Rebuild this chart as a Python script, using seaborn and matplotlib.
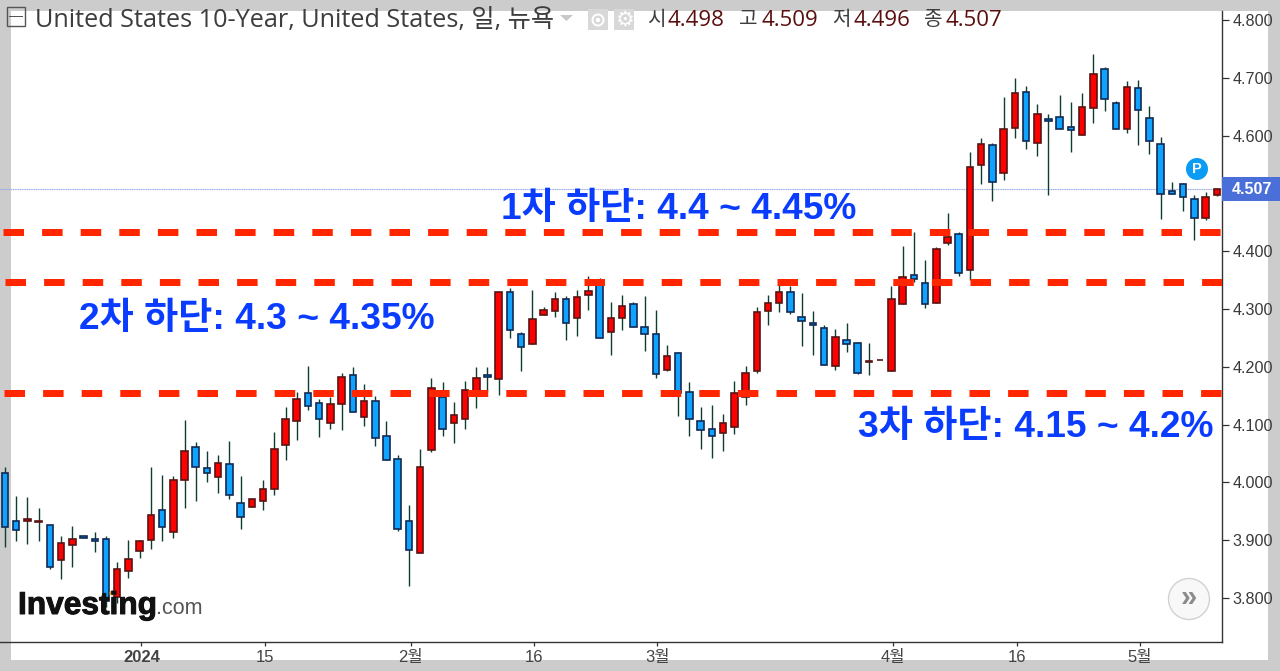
import matplotlib
matplotlib.use("Agg")
import matplotlib.pyplot as plt
from matplotlib.patches import Rectangle, Ellipse, Polygon
import matplotlib.patheffects as pe
import numpy as np
import pandas as pd
import seaborn as sns

open_ = [4.017,3.934,3.933,3.932,3.926,3.865,3.891,3.907,3.902,3.902,3.802,3.846,3.881,3.901,3.952,3.915,4.004,4.062,4.025,4.009,4.031,3.965,3.957,3.967,3.988,4.064,4.106,4.154,4.138,4.103,4.135,4.185,4.114,4.140,4.080,4.041,3.934,3.878,4.056,4.148,4.103,4.109,4.157,4.185,4.179,4.329,4.256,4.239,4.289,4.297,4.318,4.284,4.324,4.350,4.261,4.284,4.308,4.269,4.256,4.195,4.224,4.156,4.106,4.093,4.085,4.095,4.147,4.192,4.297,4.310,4.329,4.287,4.275,4.267,4.201,4.246,4.241,4.208,4.211,4.192,4.308,4.358,4.345,4.310,4.415,4.429,4.368,4.549,4.583,4.536,4.614,4.675,4.588,4.628,4.633,4.615,4.601,4.648,4.715,4.657,4.612,4.683,4.631,4.586,4.505,4.517,4.491,4.457,4.498]
high = [4.026,3.976,3.974,3.955,3.926,3.908,3.924,3.907,3.914,3.908,3.863,3.900,3.900,4.026,4.013,4.011,4.108,4.070,4.055,4.047,4.071,4.011,3.971,4.005,4.087,4.130,4.157,4.201,4.144,4.148,4.190,4.199,4.170,4.149,4.107,4.047,3.961,4.058,4.181,4.173,4.139,4.175,4.199,4.199,4.329,4.336,4.260,4.333,4.304,4.330,4.322,4.333,4.357,4.353,4.312,4.325,4.312,4.322,4.298,4.238,4.225,4.173,4.131,4.134,4.118,4.175,4.201,4.304,4.325,4.350,4.339,4.328,4.296,4.272,4.265,4.275,4.243,4.241,4.212,4.340,4.409,4.433,4.385,4.408,4.466,4.434,4.571,4.595,4.587,4.666,4.700,4.686,4.655,4.637,4.671,4.658,4.674,4.741,4.718,4.659,4.694,4.697,4.652,4.597,4.519,4.518,4.497,4.502,4.509]
low = [3.888,3.899,3.893,3.898,3.851,3.833,3.854,3.904,3.880,3.785,3.791,3.835,3.869,3.885,3.898,3.903,3.956,3.968,4.000,3.982,3.972,3.919,3.957,3.953,3.979,4.039,4.073,4.126,4.079,4.092,4.090,4.122,4.097,4.063,4.038,3.916,3.820,3.878,4.053,4.081,4.069,4.092,4.129,4.157,4.152,4.249,4.192,4.239,4.289,4.286,4.247,4.254,4.299,4.250,4.220,4.263,4.268,4.228,4.181,4.192,4.115,4.081,4.058,4.043,4.055,4.084,4.134,4.189,4.273,4.294,4.292,4.236,4.220,4.203,4.194,4.226,4.187,4.186,4.211,4.192,4.308,4.346,4.302,4.310,4.410,4.357,4.350,4.516,4.486,4.524,4.595,4.577,4.564,4.498,4.611,4.572,4.601,4.622,4.643,4.612,4.605,4.584,4.569,4.456,4.499,4.470,4.419,4.454,4.496]
close = [3.922,3.917,3.936,3.934,3.854,3.895,3.902,3.904,3.899,3.794,3.850,3.868,3.899,3.944,3.922,4.004,4.054,4.027,4.017,4.033,3.978,3.941,3.971,3.989,4.057,4.109,4.144,4.132,4.109,4.135,4.183,4.122,4.141,4.077,4.038,3.920,3.883,4.026,4.164,4.093,4.117,4.159,4.180,4.182,4.329,4.263,4.234,4.282,4.298,4.318,4.276,4.321,4.332,4.250,4.285,4.306,4.268,4.256,4.187,4.219,4.154,4.109,4.090,4.080,4.102,4.154,4.190,4.295,4.311,4.329,4.294,4.279,4.272,4.203,4.251,4.240,4.190,4.210,4.212,4.318,4.355,4.352,4.308,4.403,4.424,4.363,4.546,4.586,4.520,4.612,4.673,4.591,4.638,4.625,4.612,4.609,4.649,4.707,4.664,4.612,4.684,4.644,4.591,4.499,4.499,4.494,4.457,4.494,4.507]

y_ticks = [3.8, 3.9, 4.0, 4.1, 4.2, 4.3, 4.4, 4.6, 4.7, 4.8]
x_tick_index = [12, 23, 36, 47, 58, 79, 90, 101]
x_tick_labels = ["2024", "15", "2월", "16", "3월", "4월", "16", "5월"]
levels = [4.433, 4.347, 4.155]
last_price = 4.507
annotations = ["1차 하단: 4.4 ~ 4.45%", "2차 하단: 4.3 ~ 4.35%", "3차 하단: 4.15 ~ 4.2%"]

W, H = 1280, 671
sns.set_theme(style="white")
SANS = ["Liberation Sans", "Noto Sans CJK KR", "DejaVu Sans"]
plt.rcParams["font.family"] = SANS

df = pd.DataFrame({"open": open_, "high": high, "low": low, "close": close})
df["i"] = np.arange(len(df))
df["up"] = df["close"] >= df["open"]
df["bottom"] = df[["open", "close"]].min(axis=1)
df["height"] = (df["close"] - df["open"]).abs()

fig = plt.figure(figsize=(W / 100, H / 100), dpi=100, facecolor="white")
ax = fig.add_axes([0, (H - 642) / H, 1221.5 / W, (642 - 11) / H], facecolor="none")


def fx(x):
    return x / W


def fy(y):
    return 1 - y / H


def frect(x0, y0, x1, y1, color, z):
    fig.add_artist(Rectangle((fx(x0), fy(y1)), (x1 - x0) / W, (y1 - y0) / H,
                             transform=fig.transFigure, facecolor=color,
                             edgecolor="none", zorder=z))


def fcircle(x, y, r, face, edge="none", z=6, lw=1.0):
    fig.add_artist(Ellipse((fx(x), fy(y)), 2 * r / W, 2 * r / H, transform=fig.transFigure,
                           facecolor=face, edgecolor=edge, linewidth=lw, zorder=z))


# grey page frame
GREY = "#cccccc"
frect(0, 0, W, 11, GREY, -1)
frect(0, 0, 11, H, GREY, -1)
frect(1268, 0, W, H, GREY, -1)
frect(0, 660, W, H, GREY, -1)

# candles
BLUE, RED = "#0fa3ff", "#ff0000"
ax.vlines(df["i"], df["low"], df["high"], color="#0f3d2e", lw=1.0, zorder=2)
for up, sub in df.groupby("up"):
    ax.bar(sub["i"], sub["height"].clip(lower=0.0008), bottom=sub["bottom"], width=0.58,
           color=RED if up else BLUE, edgecolor="#5a1414" if up else "#102a55",
           linewidth=1.2, zorder=3)

# last price line
sns.lineplot(x=[-0.446, 108.42], y=[last_price, last_price], ax=ax, color="#8fa4e6",
             linewidth=0.8, linestyle=(0, (1, 0.6)), errorbar=None, zorder=1.5)

# dashed support levels
lw_pt = 7 * 0.72
dash = (0, (20.5 * 0.72 / lw_pt, 18.1 * 0.72 / lw_pt))
for lev, start in zip(levels, [-0.22, 0.0, -0.09]):
    sns.lineplot(x=[start, 108.42], y=[lev, lev], ax=ax, color="#ff2600",
                 linewidth=lw_pt, linestyle=dash, errorbar=None, zorder=4)

ax.set_xlim(-0.446, 108.42)
ax.set_ylim(3.8 - 44 / 578, 3.8 + 587 / 578)
ax.set_xlabel("")
ax.set_ylabel("")
ax.grid(False)
for s in ["top", "left"]:
    ax.spines[s].set_visible(False)
for s in ["right", "bottom"]:
    ax.spines[s].set_color("#333333")
    ax.spines[s].set_linewidth(1.0)

ax.yaxis.tick_right()
ax.set_yticks(y_ticks)
ax.set_yticklabels([f"{v:.3f}" for v in y_ticks], fontsize=11.6, color="#3a3a3a")
ax.tick_params(axis="y", length=5, width=0.9, color="#333333", pad=3, right=True)
ax.set_xticks(np.array(x_tick_index) + 0.15)
ax.set_xticklabels(x_tick_labels, fontsize=12, color="#444444")
ax.tick_params(axis="x", length=3, width=0.9, color="#333333", pad=3, bottom=True)
ax.get_xticklabels()[0].set_fontweight("bold")

# annotations
ANN = "#0a3cff"
for txt, x, y in zip(annotations, [501, 79, 858], [210, 319, 427]):
    fig.text(fx(x), fy(y), txt, fontsize=26.7, color=ANN, ha="left", va="center",
             fontweight="bold", zorder=6)

# last price box
frect(1222, 177, W, 201, "#4a6fd8", 5)
fig.text(fx(1232), fy(189), f"{last_price:.3f}", fontsize=11.6, color="white",
         fontweight="bold", ha="left", va="center", zorder=6)

# P marker
fcircle(1197, 169, 11, "#0a9bf5")
fig.text(fx(1197), fy(169), "P", fontsize=10.5, color="white", fontweight="bold",
         ha="center", va="center", zorder=7)

# scroll button
fcircle(1189, 599, 20.5, "#f8f8f8", "#d2d2d2", 6, 1.0)
fig.text(fx(1189), fy(597.5), "»", fontsize=21, color="#8c8c8c", fontweight="bold",
         ha="center", va="center", zorder=7)

# logo
fcircle(112, 593, 2.5, "#f5a623", z=5)
logo = fig.text(fx(18), fy(606), "Investing", fontsize=22.8, color="#111111", fontweight="bold",
                ha="left", va="center", zorder=6)
logo.set_path_effects([pe.withStroke(linewidth=0.7, foreground="#111111")])
fig.text(fx(156), fy(608), ".com", fontsize=15.5, color="#555555", ha="left", va="center", zorder=6)

# header
HEAD = ["Open Sans", "Noto Sans CJK KR", "DejaVu Sans"]
fig.add_artist(Rectangle((fx(6.5), fy(25.5)), 18.5 / W, 18 / H, transform=fig.transFigure,
                         facecolor="none", edgecolor="#555555", linewidth=1, zorder=6))
frect(9, 15.7, 22.5, 16.7, "#555555", 7)
fig.text(fx(35), fy(20), "United States 10-Year, United States, 일, 뉴욕", fontsize=18.2,
         color="#3d3d3d", ha="left", va="center", family=HEAD, zorder=6)
fig.add_artist(Polygon([[fx(560), fy(15)], [fx(573), fy(15)], [fx(566.5), fy(21)]],
                       transform=fig.transFigure, facecolor="#c8c8c8", edgecolor="none", zorder=6))
frect(588, 9, 608, 30, "#d8d8d8", 6)
fcircle(598, 20, 6.5, "white", z=7)
fcircle(598, 20, 4.5, "#d8d8d8", z=7.1)
fcircle(598, 20, 2.2, "white", z=7.2)
frect(614, 9, 634, 30, "#d8d8d8", 6)
fig.text(fx(624), fy(19.5), "⚙", fontsize=15, color="white", ha="center", va="center",
         family=["DejaVu Sans"], zorder=7)
ohlc_labels = ["시", "고", "저", "종"]
ohlc_values = ["4.498", "4.509", "4.496", "4.507"]
for lab, val, xl, xv in zip(ohlc_labels, ohlc_values, [647, 739, 832, 924], [668, 761, 853, 945]):
    fig.text(fx(xl), fy(20), lab, fontsize=14.5, color="#3d3d3d", ha="left", va="center",
             family=HEAD, zorder=6)
    fig.text(fx(xv), fy(20), val, fontsize=16, color="#5a0f0f", ha="left", va="center",
             family=HEAD, zorder=6)

fig.savefig("out.png", dpi=100, facecolor="white")
